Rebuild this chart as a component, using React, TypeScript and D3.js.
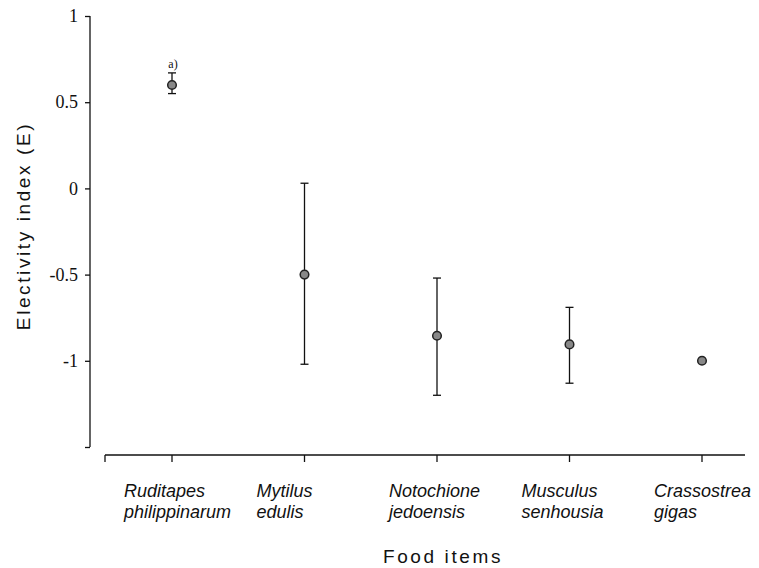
import { useEffect, useRef } from 'react';
import * as d3 from 'd3';

const categories = [
    ['Ruditapes', 'philippinarum'],
    ['Mytilus', 'edulis'],
    ['Notochione', 'jedoensis'],
    ['Musculus', 'senhousia'],
    ['Crassostrea', 'gigas'],
];
const means = [0.6, -0.5, -0.855, -0.905, -1.0];
const upper = [0.67, 0.03, -0.52, -0.69, -1.0];
const lower = [0.55, -1.02, -1.2, -1.13, -1.0];
const notes = ['a)', '', '', '', ''];
const yTicks = [1, 0.5, 0, -0.5, -1];

export default function App() {
    const svgRef = useRef<SVGSVGElement>(null);

    useEffect(() => {
        if (!svgRef.current) return;
        const svg = d3.select(svgRef.current);
        svg.selectAll('*').remove();

        const y = d3.scaleLinear().domain([-1.5, 1]).range([447, 16]);
        const x = d3.scalePoint<number>().domain(d3.range(categories.length)).range([172, 702]);
        const axisX = 90;
        const axisY = 455;

        // y axis
        const yAxis = d3.axisLeft(y).tickValues([...yTicks, -1.5]).tickSize(5).tickPadding(7)
            .tickFormat((d) => (d.valueOf() === -1.5 ? '' : String(d)));
        const yg = svg.append('g').attr('transform', `translate(${axisX},0)`).call(yAxis);
        yg.select('.domain').attr('d', `M0,${y(1)}V${y(-1.5)}`).attr('stroke', '#111').attr('stroke-width', 1.3);
        yg.selectAll('.tick line').attr('stroke', '#111').attr('stroke-width', 1.3);
        yg.selectAll('.tick text')
            .attr('font-family', '"Liberation Serif", "DejaVu Serif", serif')
            .attr('font-size', 18)
            .attr('fill', '#111');

        // x axis
        svg.append('line')
            .attr('x1', 105).attr('x2', 745)
            .attr('y1', axisY).attr('y2', axisY)
            .attr('stroke', '#111').attr('stroke-width', 1.3);
        const xTicks = [105, ...categories.map((_, i) => x(i)!)];
        svg.append('g').selectAll('line').data(xTicks).join('line')
            .attr('x1', (d) => d).attr('x2', (d) => d)
            .attr('y1', axisY).attr('y2', axisY + 7)
            .attr('stroke', '#111').attr('stroke-width', 1.3);

        // category labels, left-aligned a bit before each tick
        const labelG = svg.append('g');
        categories.forEach((lines, i) => {
            const t = labelG.append('text')
                .attr('font-family', '"Liberation Sans", Arial, sans-serif')
                .attr('font-style', 'italic')
                .attr('font-size', 18)
                .attr('fill', '#111');
            lines.forEach((ln, j) => {
                t.append('tspan').attr('x', x(i)! - 48).attr('y', 497 + j * 21).text(ln);
            });
        });

        // error bars
        const g = svg.append('g');
        categories.forEach((_, i) => {
            const cx = x(i)!;
            if (upper[i] !== lower[i]) {
                g.append('line')
                    .attr('x1', cx).attr('x2', cx)
                    .attr('y1', y(upper[i])).attr('y2', y(lower[i]))
                    .attr('stroke', '#111').attr('stroke-width', 1.3);
                [upper[i], lower[i]].forEach((v) => {
                    g.append('line')
                        .attr('x1', cx - 4).attr('x2', cx + 4)
                        .attr('y1', y(v)).attr('y2', y(v))
                        .attr('stroke', '#111').attr('stroke-width', 1.3);
                });
            }
            g.append('circle')
                .attr('cx', cx).attr('cy', y(means[i]))
                .attr('r', 4.3)
                .attr('fill', '#888')
                .attr('stroke', '#222').attr('stroke-width', 1.5);
            if (notes[i]) {
                g.append('text')
                    .attr('x', cx + 1).attr('y', y(upper[i]) - 5)
                    .attr('text-anchor', 'middle')
                    .attr('font-family', '"Liberation Serif", serif')
                    .attr('font-size', 12)
                    .attr('fill', '#111')
                    .text(notes[i]);
            }
        });

        // axis titles
        svg.append('text')
            .attr('transform', `translate(30,226) rotate(-90)`)
            .attr('text-anchor', 'middle')
            .attr('font-family', '"Liberation Sans", Arial, sans-serif')
            .attr('font-size', 19)
            .attr('letter-spacing', 2.6)
            .attr('fill', '#111')
            .text('Electivity index (E)');
        svg.append('text')
            .attr('x', 383).attr('y', 563)
            .attr('font-family', '"Liberation Sans", Arial, sans-serif')
            .attr('font-size', 19)
            .attr('letter-spacing', 2.6)
            .attr('fill', '#111')
            .text('Food items');
    }, []);

    return (
        <svg ref={svgRef} width={759} height={568} style={{ position: 'absolute', left: 0, top: 0, background: '#fff' }} />
    );
}
